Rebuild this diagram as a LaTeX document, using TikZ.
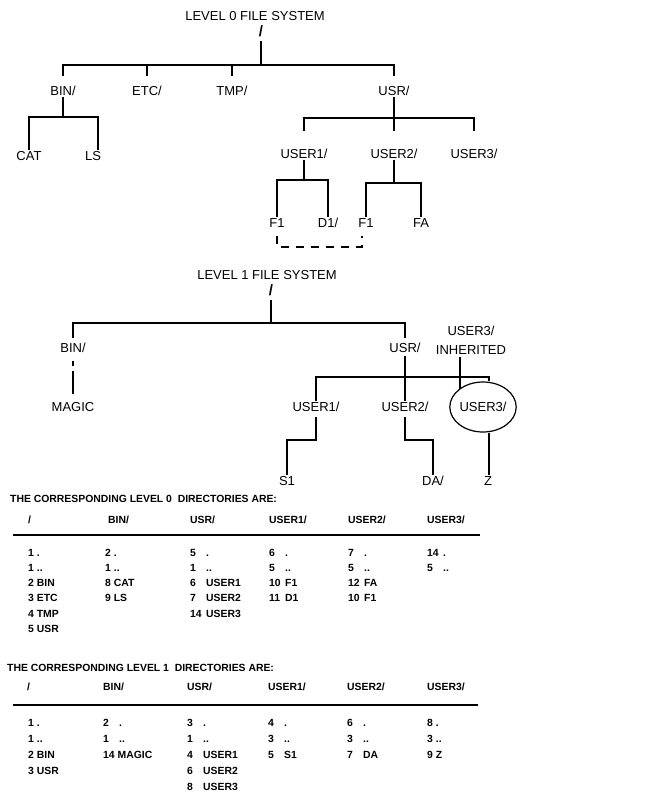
\documentclass[tikz,border=0pt]{standalone}
\usepackage{fontspec}
\setmainfont{Liberation Sans}
\usetikzlibrary{shapes.geometric}

\newcommand{\ent}[2]{\makebox[16pt][l]{#1}#2}

\begin{document}
\begin{tikzpicture}[x=1pt,y=-1pt,
	tree/.style={line width=1.4pt},
	linegap/.style={shorten <=#1,shorten >=#1},
	lbl/.style={font=\fontsize{13}{19}\selectfont,inner sep=1pt},
	slash/.style={font=\fontsize{15}{17}\selectfont\bfseries,inner sep=1pt},
	encl/.style={ellipse,draw,line width=1.2pt,minimum width=63pt,minimum height=50pt,inner sep=0pt,font=\fontsize{13}{19}\selectfont},
	tab/.style={font=\fontsize{10.4}{12}\selectfont\bfseries,anchor=west,inner sep=0pt}]
	\useasboundingbox (0,0) rectangle (649,798);
%
% level 0 tree
	\node[lbl] (title0) at (255,16) {LEVEL 0 FILE SYSTEM};
	\node[slash] (root0) at (261,31) {/};
	\node[lbl] (bin0) at (63,91) {BIN/};
	\node[lbl] (etc0) at (147,91) {ETC/};
	\node[lbl] (tmp0) at (232,91) {TMP/};
	\node[lbl] (usr0) at (394,91) {USR/};
	\node[lbl] (cat) at (29,156) {CAT};
	\node[lbl] (ls) at (93,156) {LS};
	\node[lbl] (user1) at (304,154) {USER1/};
	\node[lbl] (user2) at (394,154) {USER2/};
	\node[lbl] (user3) at (474,154) {USER3/};
	\node[lbl] (f1a) at (277,223) {F1};
	\node[lbl] (d1) at (328,223) {D1/};
	\node[lbl] (f1b) at (366,223) {F1};
	\node[lbl] (fa) at (421,223) {FA};
%
	\coordinate (bar0) at (0,65);
	\coordinate (barbin) at (0,117);
	\coordinate (barusr) at (0,118);
	\coordinate (baru1) at (0,180);
	\coordinate (baru2) at (0,183);
	\coordinate (dashy) at (0,247);
	\coordinate (lsx) at ([xshift=5pt]ls.north);
	\coordinate (f1bx) at ([xshift=-4pt]f1b.south);
%
	\draw[tree,shorten <=3pt] (root0.south) -- (root0.south |- bar0);
	\draw[tree,linegap=9pt] (bin0.north) -- (bin0.north |- bar0) -- (usr0.north |- bar0) -- (usr0.north);
	\draw[tree,shorten <=9pt] (etc0.north) -- (etc0.north |- bar0);
	\draw[tree,shorten <=9pt] (tmp0.north) -- (tmp0.north |- bar0);
	\draw[tree] (bin0.south) -- (bin0.south |- barbin);
	\draw[tree] (cat.north) -- (cat.north |- barbin) -- (lsx |- barbin) -- (lsx);
	\draw[tree,shorten >=17pt] (usr0.south) -- (usr0.south |- user2.north);
	\draw[tree,linegap=17pt] (user1.north) -- (user1.north |- barusr) -- (user3.north |- barusr) -- (user3.north);
	\draw[tree] (user1.south) -- (user1.south |- baru1);
	\draw[tree] (f1a.north) -- (f1a.north |- baru1) -- (d1.north |- baru1) -- (d1.north);
	\draw[tree] (user2.south) -- (user2.south |- baru2);
	\draw[tree] (f1b.north) -- (f1b.north |- baru2) -- (fa.north |- baru2) -- (fa.north);
	\draw[tree,dash pattern=on 8pt off 7pt,linegap=7pt] (f1a.south) -- (f1a.south |- dashy) -- (f1bx |- dashy) -- (f1bx);
%
% level 1 tree
	\node[lbl] (title1) at (267,275) {LEVEL 1 FILE SYSTEM};
	\node[slash] (root1) at (271,290) {/};
	\node[lbl] (bin1) at (73,348) {BIN/};
	\node[lbl] (magic) at (73,407) {MAGIC};
	\node[lbl] (usr1) at (405,348) {USR/};
	\node[lbl,align=center] (inh) at (471,340) {USER3/\\INHERITED};
	\node[lbl] (user1b) at (316,407) {USER1/};
	\node[lbl] (user2b) at (405,407) {USER2/};
	\node[encl] (u3) at (483,407) {USER3/};
	\node[lbl] (s1) at (287,481) {S1};
	\node[lbl] (da) at (433,481) {DA/};
	\node[lbl] (z) at (488,481) {Z};
%
	\coordinate (bar1) at (0,323);
	\coordinate (bar1u) at (0,377);
	\coordinate (bar1s) at (0,440);
	\coordinate (inhx) at ([xshift=-11pt]inh.south);
	\coordinate (u3top) at ([xshift=6pt]u3.north);
	\coordinate (u3bot) at ([xshift=6pt]u3.south);
%
	\draw[tree,shorten <=3pt] (root1.south) -- (root1.south |- bar1);
	\draw[tree,linegap=4pt] (bin1.north) -- (bin1.north |- bar1) -- (usr1.north |- bar1) -- (usr1.north);
	\draw[tree,dash pattern=on 5pt off 5pt on 40pt,linegap=7pt] (bin1.south) -- (magic.north);
	\draw[tree,shorten <=2pt] (usr1.south) -- (user2b.north);
	\draw[tree] (user1b.north) -- (user1b.north |- bar1u) -- (u3top |- bar1u) -- (u3top);
	\draw[tree,shorten <=2pt] (inhx) -- (inhx |- u3.143.5);
	\draw[tree,shorten <=4pt] (user1b.south) -- (user1b.south |- bar1s) -- (s1.north |- bar1s) -- (s1.north);
	\draw[tree,shorten <=4pt] (user2b.south) -- (user2b.south |- bar1s) -- (da.north |- bar1s) -- (da.north);
	\draw[tree] (u3bot) -- (u3bot |- z.north);
%
% level 0 directories
	\node[tab] (cap0) at (10,499) {THE CORRESPONDING LEVEL 0\ \ DIRECTORIES ARE:};
	\node[tab] (h0a) at (28,520) {/};
	\node[tab] (h0b) at (108,520) {BIN/};
	\node[tab] (h0c) at (190,520) {USR/};
	\node[tab] (h0d) at (269,520) {USER1/};
	\node[tab] (h0e) at (348,520) {USER2/};
	\node[tab] (h0f) at (427,520) {USER3/};
	\draw[line width=1.5pt] (13,535) -- (480,535);
	\node[tab] (r0a1) at (28,553) {1 .};
	\node[tab] (r0a2) at (28,568) {1 ..};
	\node[tab] (r0a3) at (28,583) {2 BIN};
	\node[tab] (r0a4) at (28,598) {3 ETC};
	\node[tab] (r0a5) at (28,614) {4 TMP};
	\node[tab] (r0a6) at (28,629) {5 USR};
	\node[tab] (r0b1) at (105,553) {2 .};
	\node[tab] (r0b2) at (105,568) {1 ..};
	\node[tab] (r0b3) at (105,583) {8 CAT};
	\node[tab] (r0b4) at (105,598) {9 LS};
	\node[tab] (r0c1) at (190,553) {\ent{5}{.}};
	\node[tab] (r0c2) at (190,568) {\ent{1}{..}};
	\node[tab] (r0c3) at (190,583) {\ent{6}{USER1}};
	\node[tab] (r0c4) at (190,598) {\ent{7}{USER2}};
	\node[tab] (r0c5) at (190,614) {\ent{14}{USER3}};
	\node[tab] (r0d1) at (269,553) {\ent{6}{.}};
	\node[tab] (r0d2) at (269,568) {\ent{5}{..}};
	\node[tab] (r0d3) at (269,583) {\ent{10}{F1}};
	\node[tab] (r0d4) at (269,598) {\ent{11}{D1}};
	\node[tab] (r0e1) at (348,553) {\ent{7}{.}};
	\node[tab] (r0e2) at (348,568) {\ent{5}{..}};
	\node[tab] (r0e3) at (348,583) {\ent{12}{FA}};
	\node[tab] (r0e4) at (348,598) {\ent{10}{F1}};
	\node[tab] (r0f1) at (427,553) {\ent{14}{.}};
	\node[tab] (r0f2) at (427,568) {\ent{5}{..}};
%
% level 1 directories
	\node[tab] (cap1) at (7,668) {THE CORRESPONDING LEVEL 1\ \ DIRECTORIES ARE:};
	\node[tab] (h1a) at (27,687) {/};
	\node[tab] (h1b) at (103,687) {BIN/};
	\node[tab] (h1c) at (187,687) {USR/};
	\node[tab] (h1d) at (268,687) {USER1/};
	\node[tab] (h1e) at (347,687) {USER2/};
	\node[tab] (h1f) at (427,687) {USER3/};
	\draw[line width=1.5pt] (13,705) -- (478,705);
	\node[tab] (r1a1) at (28,723) {1 .};
	\node[tab] (r1a2) at (28,739) {1 ..};
	\node[tab] (r1a3) at (28,755) {2 BIN};
	\node[tab] (r1a4) at (28,771) {3 USR};
	\node[tab] (r1b1) at (103,723) {\ent{2}{.}};
	\node[tab] (r1b2) at (103,739) {\ent{1}{..}};
	\node[tab] (r1b3) at (103,755) {14 MAGIC};
	\node[tab] (r1c1) at (187,723) {\ent{3}{.}};
	\node[tab] (r1c2) at (187,739) {\ent{1}{..}};
	\node[tab] (r1c3) at (187,755) {\ent{4}{USER1}};
	\node[tab] (r1c4) at (187,771) {\ent{6}{USER2}};
	\node[tab] (r1c5) at (187,787) {\ent{8}{USER3}};
	\node[tab] (r1d1) at (268,723) {\ent{4}{.}};
	\node[tab] (r1d2) at (268,739) {\ent{3}{..}};
	\node[tab] (r1d3) at (268,755) {\ent{5}{S1}};
	\node[tab] (r1e1) at (347,723) {\ent{6}{.}};
	\node[tab] (r1e2) at (347,739) {\ent{3}{..}};
	\node[tab] (r1e3) at (347,755) {\ent{7}{DA}};
	\node[tab] (r1f1) at (427,723) {8 .};
	\node[tab] (r1f2) at (427,739) {3 ..};
	\node[tab] (r1f3) at (427,755) {9 Z};
%
\end{tikzpicture}
\end{document}
